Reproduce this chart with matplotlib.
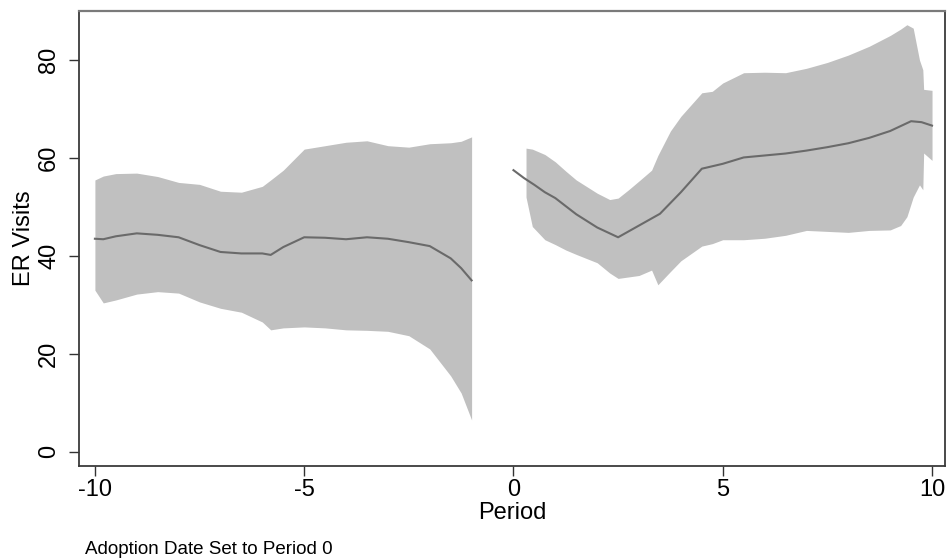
import matplotlib
matplotlib.use("Agg")
import matplotlib.pyplot as plt

plt.rcParams['font.family'] = ['Liberation Sans', 'DejaVu Sans']

# Pre-adoption periods: smoothed estimate and confidence band
pre_x = [-10, -9.8, -9.5, -9, -8.5, -8, -7.5, -7, -6.5, -6, -5.8, -5.5, -5,
         -4.5, -4, -3.5, -3, -2.5, -2, -1.5, -1.25, -1]
pre_mean = [43.5, 43.4, 44.0, 44.6, 44.3, 43.8, 42.2, 40.8, 40.5, 40.5, 40.2,
            41.8, 43.8, 43.7, 43.4, 43.8, 43.5, 42.8, 42.0, 39.5, 37.5, 35.0]
pre_upper = [55.5, 56.3, 56.8, 56.9, 56.2, 55.0, 54.6, 53.2, 53.0, 54.2, 55.5,
             57.5, 61.8, 62.5, 63.2, 63.5, 62.5, 62.2, 62.9, 63.1, 63.4, 64.3]
pre_lower = [33.0, 30.4, 31.0, 32.2, 32.7, 32.4, 30.6, 29.3, 28.5, 26.5, 24.9,
             25.3, 25.5, 25.3, 24.9, 24.8, 24.6, 23.7, 21.0, 15.5, 12.0, 6.5]

# Post-adoption periods: smoothed estimate
post_x = [0, 0.25, 0.5, 0.75, 1, 1.5, 2, 2.5, 3, 3.5, 4, 4.5, 5, 5.5, 6, 6.5,
          7, 7.5, 8, 8.5, 9, 9.5, 9.75, 10]
post_mean = [57.5, 55.9, 54.5, 53.0, 51.8, 48.5, 45.8, 43.8, 46.2, 48.6, 53.0,
             57.8, 58.8, 60.1, 60.5, 60.9, 61.5, 62.2, 63.0, 64.1, 65.5, 67.5,
             67.3, 66.6]

# Post-adoption confidence band
band_x = [0.3, 0.45, 0.75, 1.0, 1.25, 1.5, 2.0, 2.3, 2.5, 2.75, 3.0, 3.3, 3.45,
          3.75, 4.0, 4.5, 4.75, 5.0, 5.5, 6.0, 6.5, 7.0, 7.5, 8.0, 8.5, 9.0,
          9.25, 9.4, 9.55, 9.7, 9.78, 9.8, 10.0]
band_upper = [62.0, 61.8, 60.7, 59.2, 57.3, 55.5, 52.8, 51.5, 51.8, 53.5, 55.3,
              57.5, 60.5, 65.5, 68.5, 73.3, 73.6, 75.3, 77.4, 77.5, 77.4, 78.3,
              79.5, 81.0, 82.8, 85.0, 86.3, 87.2, 86.5, 80.0, 78.0, 74.0, 73.8]
band_lower = [52.0, 46.0, 43.3, 42.3, 41.2, 40.3, 38.6, 36.5, 35.4, 35.7, 36.0,
              37.1, 34.1, 36.8, 39.0, 42.0, 42.5, 43.3, 43.3, 43.6, 44.2, 45.2,
              45.0, 44.8, 45.2, 45.3, 46.2, 48.0, 52.0, 54.5, 53.5, 61.0, 59.5]

x_ticks = [-10, -5, 0, 5, 10]
y_ticks = [0, 20, 40, 60, 80]

band_color = '#c0c0c0'
line_color = '#6a6a6a'

fig = plt.figure(figsize=(9.48, 5.58), dpi=100)
ax = fig.add_axes([79 / 948, 92 / 558, 866 / 948, 455 / 558])

ax.fill_between(pre_x, pre_lower, pre_upper, color=band_color, linewidth=0)
ax.plot(pre_x, pre_mean, color=line_color, linewidth=1.5)
ax.fill_between(band_x, band_lower, band_upper, color=band_color, linewidth=0)
ax.plot(post_x, post_mean, color=line_color, linewidth=1.5)

ax.set_xlim(-10.38, 10.31)
ax.set_ylim(-2.9, 90)
ax.set_xticks(x_ticks)
ax.set_yticks(y_ticks)
ax.set_xticklabels([str(t) for t in x_ticks], fontsize=17)
ax.set_yticklabels([str(t) for t in y_ticks], fontsize=17, rotation=90,
                   va='center')
ax.tick_params(axis='both', direction='out', length=7.5, width=1,
               color='#333333')
ax.tick_params(axis='x', pad=2)
ax.tick_params(axis='y', pad=6)

for side in ['left', 'bottom', 'right']:
    ax.spines[side].set_color('#3a3a3a')
    ax.spines[side].set_linewidth(1.3)
ax.spines['top'].set_color('#7a7a7a')
ax.spines['top'].set_linewidth(1.6)

ax.set_xlabel('Period', fontsize=17, labelpad=0.5)
ax.set_ylabel('ER Visits', fontsize=17, labelpad=2)

fig.text(85 / 948, 1 - 554 / 558, 'Adoption Date Set to Period 0',
         fontsize=13.5, ha='left', va='baseline')

fig.savefig('out.png', dpi=100, facecolor='white')
